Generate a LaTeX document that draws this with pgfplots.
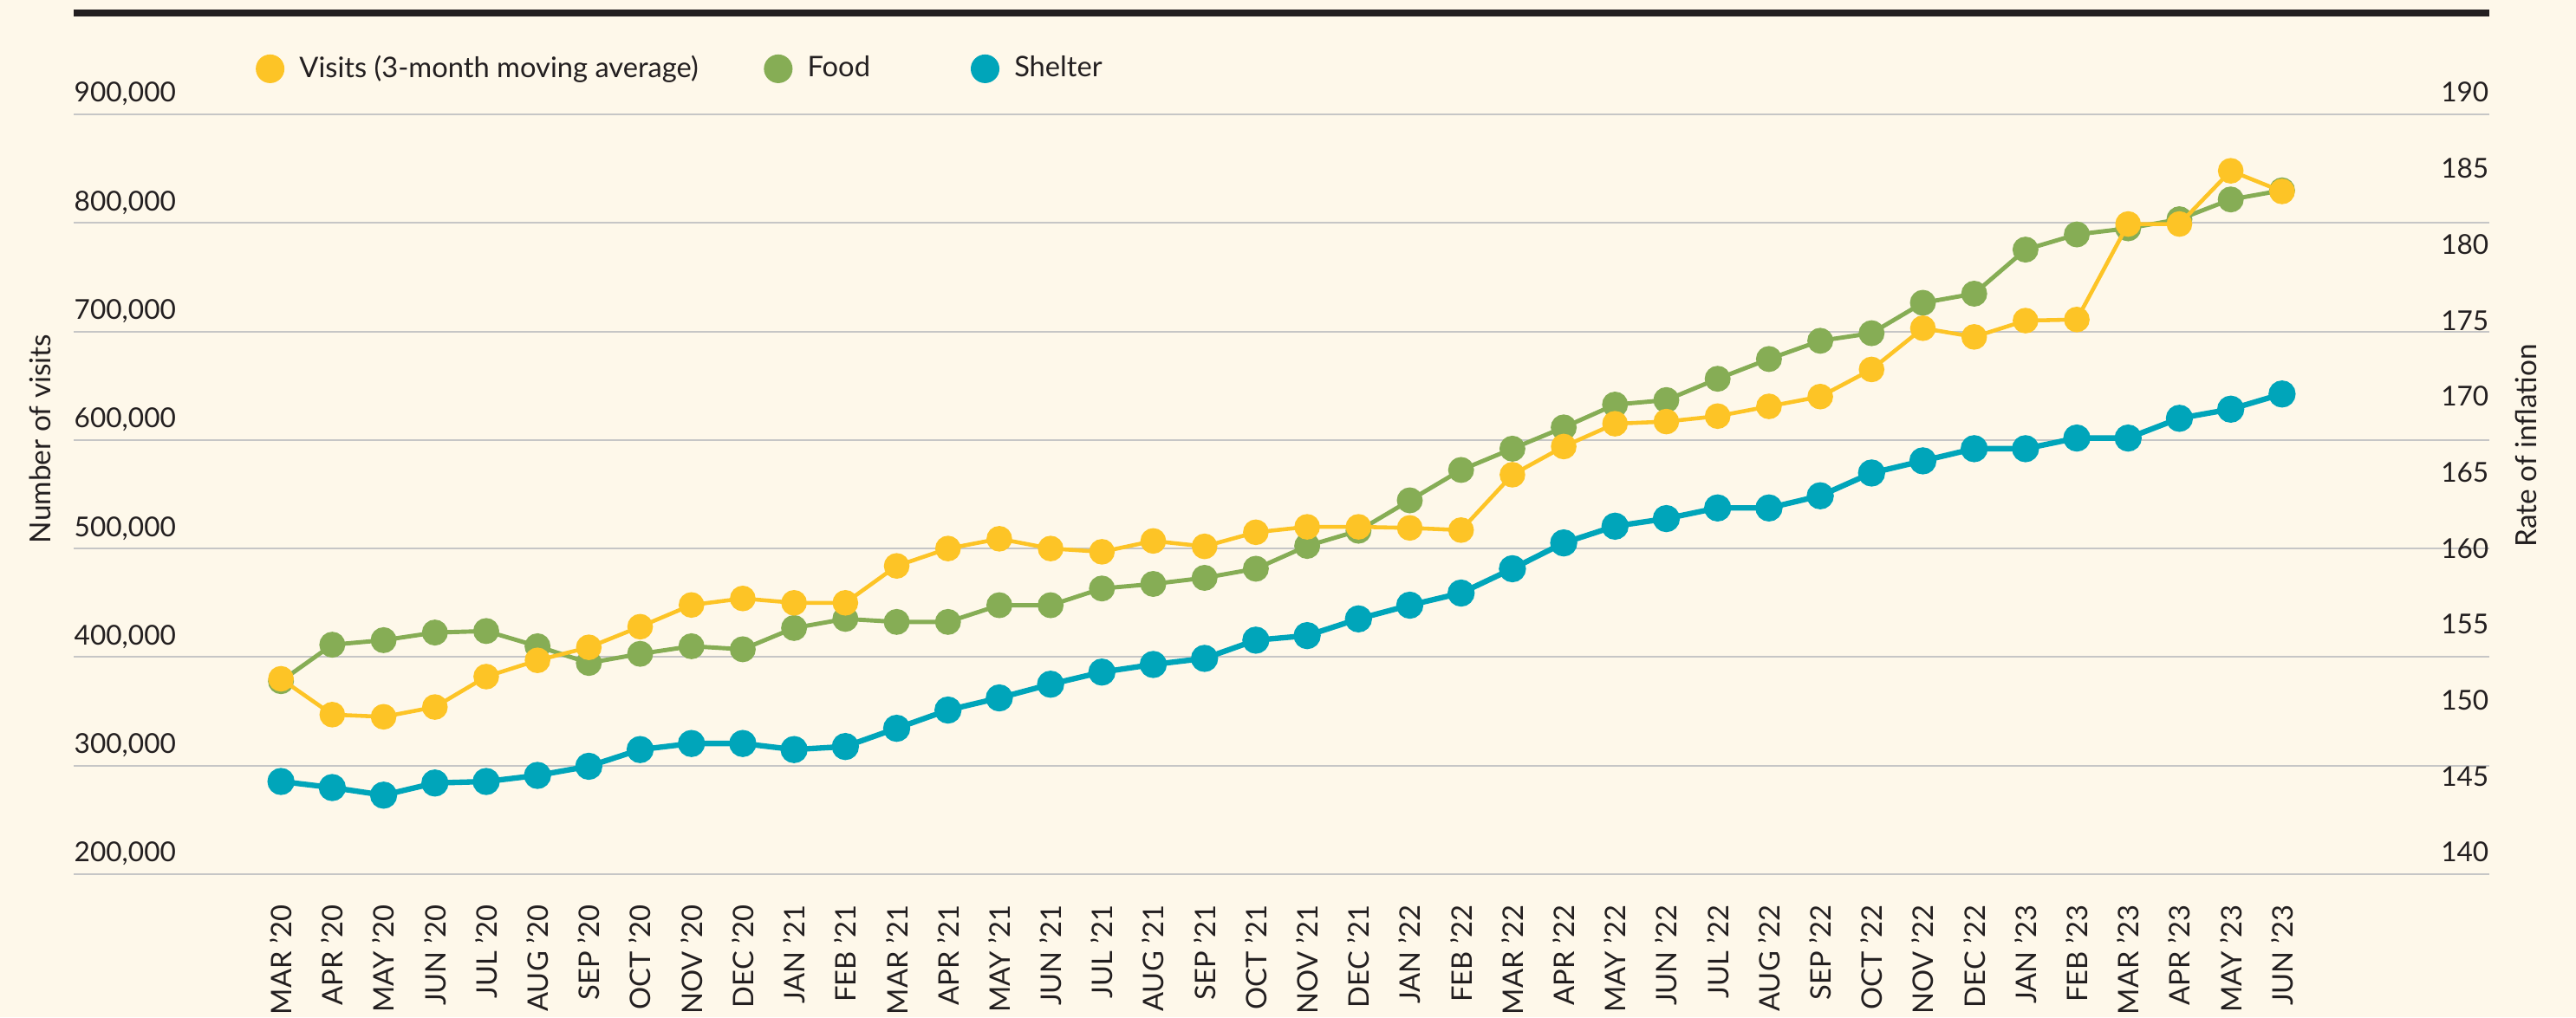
\documentclass[border=0pt]{standalone}
\usepackage{fontspec}
\setmainfont{Lato}
\usepackage{pgfplots}
\pgfplotsset{compat=1.18}
\usepackage{pgfplotstable}

\definecolor{bg}{HTML}{FEF8EA}
\definecolor{txt}{HTML}{231F20}
\definecolor{gridc}{HTML}{C6C6C6}
\definecolor{ylw}{HTML}{FDC426}
\definecolor{grn}{HTML}{86AD55}
\definecolor{tealc}{HTML}{00A5BA}

% i = months since Mar 2020; visits on left axis, CPI food/shelter on right axis
\pgfplotstableread{
i visits food shelter
0 380000 152.7 146.1
1 347000 155.1 145.7
2 345000 155.4 145.2
3 354000 155.9 146.0
4 382000 156.0 146.1
5 397000 155.0 146.5
6 409000 153.9 147.1
7 428000 154.5 148.2
8 448000 155.0 148.6
9 454000 154.8 148.6
10 450000 156.2 148.2
11 450000 156.8 148.4
12 484000 156.6 149.6
13 500000 156.6 150.8
14 509000 157.7 151.6
15 500000 157.7 152.5
16 497000 158.8 153.3
17 507000 159.1 153.8
18 502000 159.5 154.2
19 515000 160.1 155.4
20 520000 161.6 155.7
21 520000 162.6 156.8
22 519000 164.6 157.7
23 517000 166.6 158.5
24 568000 168.0 160.1
25 594000 169.4 161.8
26 615000 170.9 162.9
27 617000 171.2 163.4
28 622000 172.6 164.1
29 631000 173.9 164.1
30 640000 175.1 164.9
31 665000 175.6 166.4
32 703000 177.6 167.2
33 695000 178.2 168.0
34 710000 181.1 168.0
35 711000 182.1 168.7
36 799000 182.5 168.7
37 799000 183.1 170.0
38 848000 184.4 170.6
39 829000 185.0 171.6
}\cpidata

\pgfplotsset{
  basepos/.style={scale only axis, width=27.87cm, height=8.77cm,
    at={(0.85cm,1.65cm)}, anchor=south west,
    xmin=-4.04, xmax=43.04, clip=false},
  ticktxt/.style={font=\fontsize{9}{10}\selectfont, text=txt},
}

\begin{document}
\begin{tikzpicture}
\fill[bg] (0,0) rectangle (29.72cm,11.74cm);
\useasboundingbox (0,0) rectangle (29.72cm,11.74cm);

% left axis: grid, ticks, month labels
\begin{axis}[basepos,
  ymin=200000, ymax=900000,
  ytick={200000,300000,400000,500000,600000,700000,800000,900000},
  yticklabels={{200,000},{300,000},{400,000},{500,000},{600,000},{700,000},{800,000},{900,000}},
  ymajorgrids, grid style={line width=0.6pt, gridc},
  axis line style={draw=none}, tick style={draw=none}, major tick length=0pt,
  scaled y ticks=false,
  yticklabel style={ticktxt, anchor=base west, inner sep=0pt, yshift=4pt},
  xtick={0,...,39},
  xticklabels={MAR ’20, APR ’20, MAY ’20, JUN ’20, JUL ’20, AUG ’20, SEP ’20, OCT ’20, NOV ’20, DEC ’20,
    JAN ’21, FEB ’21, MAR ’21, APR ’21, MAY ’21, JUN ’21, JUL ’21, AUG ’21, SEP ’21, OCT ’21, NOV ’21, DEC ’21,
    JAN ’22, FEB ’22, MAR ’22, APR ’22, MAY ’22, JUN ’22, JUL ’22, AUG ’22, SEP ’22, OCT ’22, NOV ’22, DEC ’22,
    JAN ’23, FEB ’23, MAR ’23, APR ’23, MAY ’23, JUN ’23},
  xticklabel shift=10pt,
  xticklabel style={font=\fontsize{9.3}{10}\selectfont, text=txt, rotate=90, anchor=east, inner sep=0pt},
  ylabel={Number of visits},
  every axis y label/.style={at={(axis description cs:-0.014,0.573)}, rotate=90, anchor=center,
    font=\fontsize{9.5}{10}\selectfont, text=txt},
]
\end{axis}

% right axis: inflation series
\begin{axis}[basepos,
  ymin=140, ymax=190,
  ytick={140,145,...,190},
  axis y line*=right, hide x axis,
  axis line style={draw=none}, tick style={draw=none}, major tick length=0pt,
  /pgf/number format/assume math mode=true,
  yticklabel style={ticktxt, anchor=base east, inner sep=0pt, yshift=4pt},
  ylabel={Rate of inflation},
  every axis y label/.style={at={(axis description cs:1.0153,0.564)}, rotate=90, anchor=center,
    font=\fontsize{9.5}{10}\selectfont, text=txt},
]
\addplot[grn, line width=1.4pt, mark=*, mark size=3.55pt, mark options={fill=grn, draw=grn}]
  table[x=i, y=food] {\cpidata};
\addplot[tealc, line width=1.8pt, mark=*, mark size=3.55pt, mark options={fill=tealc, draw=tealc}]
  table[x=i, y=shelter] {\cpidata};
\end{axis}

% visits on top, with legend
\begin{axis}[basepos,
  ymin=200000, ymax=900000, hide axis,
  legend columns=-1, legend cell align=left,
  legend style={draw=none, fill=none, inner sep=0pt, outer sep=0pt,
    at={(axis description cs:0.0754,1.06)}, anchor=west,
    column sep=0pt,
    nodes={inner sep=0pt, font=\fontsize{9.3}{10}\selectfont, text=txt},
    /tikz/every odd column/.append style={column sep=4.9pt}},
]
\addlegendimage{legend image code/.code={\fill[ylw] (0pt,0pt) circle (4.5pt);}}
\addlegendentry{\makebox[152.5pt][l]{Visits (3-month moving average)}}
\addlegendimage{legend image code/.code={\fill[grn] (0pt,0pt) circle (4.5pt);}}
\addlegendentry{\makebox[53.6pt][l]{Food}}
\addlegendimage{legend image code/.code={\fill[tealc] (0pt,0pt) circle (4.5pt);}}
\addlegendentry{Shelter}
\addplot[ylw, line width=1.3pt, mark=*, mark size=3.55pt, mark options={fill=ylw, draw=ylw}, forget plot]
  table[x=i, y=visits] {\cpidata};
\end{axis}

% top rule
\fill[txt] (0.85cm,11.55cm) rectangle (28.72cm,11.63cm);
\end{tikzpicture}
\end{document}
